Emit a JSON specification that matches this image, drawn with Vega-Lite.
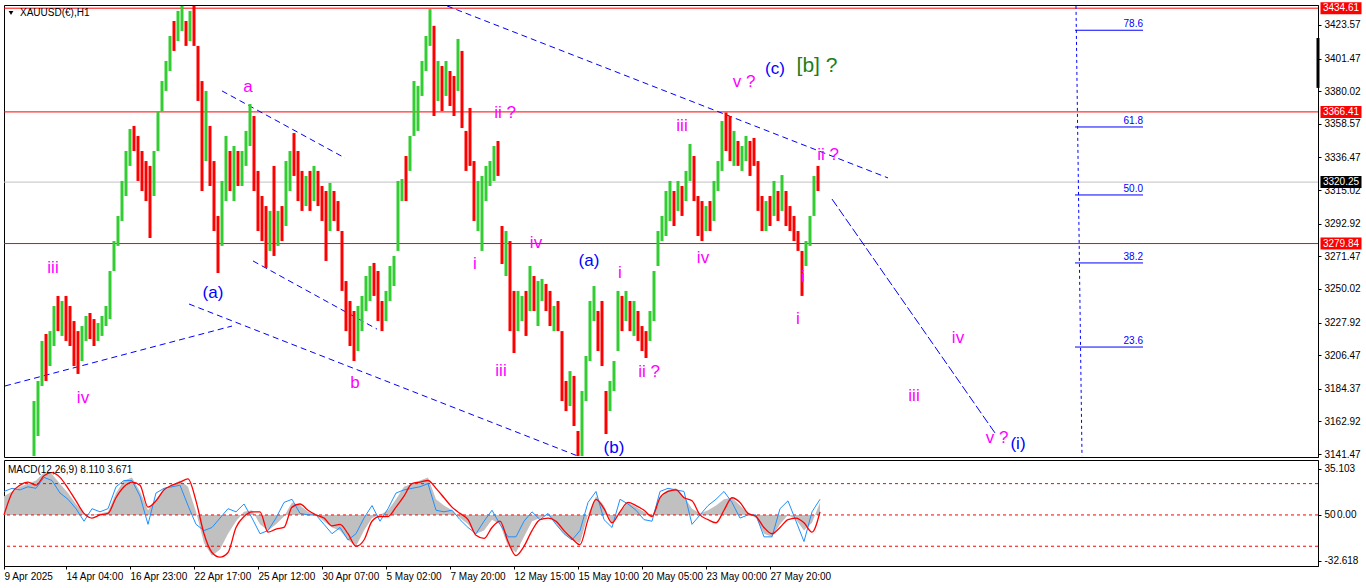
{
"$schema":"https://vega.github.io/schema/vega-lite/v6.json",
"padding":{"left":0,"top":1,"right":0,"bottom":0},
"background":"white",
"bounds":"flush",
"spacing":3,
"config":{"view":{"stroke":"#000000","strokeWidth":1},"font":"Liberation Sans","axis":{"labelOverlap":false,"labelFlush":false}},
"datasets":{
"hl":[{"p":3434.61,"c":"#ff0000"},{"p":3366.41,"c":"#ff0000"},{"p":3279.84,"c":"#ff0000"},{"p":3320.25,"c":"#c0c0c0"}],
"tl":[{"t1":1,"p1":3186.2,"t2":228,"p2":3225.6,"k":"a"},{"t1":185,"p1":3240.1,"t2":574,"p2":3140.1,"k":"a"},{"t1":218,"p1":3380.2,"t2":341,"p2":3336.1,"k":"a"},{"t1":249,"p1":3268.4,"t2":373,"p2":3223.6,"k":"a"},{"t1":443,"p1":3436.1,"t2":884,"p2":3323.0,"k":"a"},{"t1":828,"p1":3309.1,"t2":991,"p2":3155.3,"k":"b"},{"t1":1072,"p1":3436.1,"t2":1078,"p2":3140.1,"k":"c"}],
"fb":[{"t1":1071,"t2":1139,"p":3420.1,"s":"78.6"},{"t1":1071,"t2":1139,"p":3356.5,"s":"61.8"},{"t1":1071,"t2":1139,"p":3311.8,"s":"50.0"},{"t1":1071,"t2":1139,"p":3267.1,"s":"38.2"},{"t1":1071,"t2":1139,"p":3211.8,"s":"23.6"}],
"tg":[{"t":1337,"p":3434.61,"s":"3434.61","c":"#ff0000"},{"t":1337,"p":3366.41,"s":"3366.41","c":"#ff0000"},{"t":1337,"p":3320.25,"s":"3320.25","c":"#000000"},{"t":1337,"p":3279.84,"s":"3279.84","c":"#ff0000"}],
"lab":[
{"t":49,"p":3263.8,"s":"iii","c":"#ff00ff","fs":17},
{"t":79,"p":3178.3,"s":"iv","c":"#ff00ff","fs":17},
{"t":209,"p":3247.3,"s":"(a)","c":"#0000ff","fs":17},
{"t":244,"p":3382.8,"s":"a","c":"#ff00ff","fs":17},
{"t":351,"p":3188.2,"s":"b","c":"#ff00ff","fs":17},
{"t":501,"p":3365.7,"s":"ii ?","c":"#ff00ff","fs":17},
{"t":471,"p":3266.4,"s":"i","c":"#ff00ff","fs":17},
{"t":532,"p":3280.2,"s":"iv","c":"#ff00ff","fs":17},
{"t":497,"p":3196.0,"s":"iii","c":"#ff00ff","fs":17},
{"t":585,"p":3268.4,"s":"(a)","c":"#0000ff","fs":17},
{"t":616,"p":3260.5,"s":"i","c":"#ff00ff","fs":17},
{"t":645,"p":3195.4,"s":"ii ?","c":"#ff00ff","fs":17},
{"t":610,"p":3145.4,"s":"(b)","c":"#0000ff","fs":17},
{"t":678,"p":3357.2,"s":"iii","c":"#ff00ff","fs":17},
{"t":699,"p":3270.4,"s":"iv","c":"#ff00ff","fs":17},
{"t":740,"p":3386.1,"s":"v ?","c":"#ff00ff","fs":17},
{"t":771,"p":3394.6,"s":"(c)","c":"#0000ff","fs":17},
{"t":813,"p":3396.6,"s":"[b] ?","c":"#1a801a","fs":21},
{"t":824,"p":3338.1,"s":"ii ?","c":"#ff00ff","fs":17},
{"t":799,"p":3257.9,"s":"i","c":"#ff00ff","fs":17},
{"t":794,"p":3230.2,"s":"i","c":"#ff00ff","fs":17},
{"t":954,"p":3217.7,"s":"iv","c":"#ff00ff","fs":17},
{"t":910,"p":3179.6,"s":"iii","c":"#ff00ff","fs":17},
{"t":993,"p":3152.0,"s":"v ?","c":"#ff00ff","fs":17},
{"t":1014,"p":3148.0,"s":"(i)","c":"#0000ff","fs":17}
],
"cd":[
{"t":30,"h":3176.3,"l":3140.1,"d":"u"},
{"t":34,"h":3189.5,"l":3153.3,"d":"u"},
{"t":38,"h":3215.8,"l":3186.2,"d":"u"},
{"t":42,"h":3220.4,"l":3189.5,"d":"d"},
{"t":46,"h":3222.3,"l":3199.3,"d":"u"},
{"t":50,"h":3238.8,"l":3212.5,"d":"u"},
{"t":54,"h":3245.4,"l":3222.3,"d":"d"},
{"t":58,"h":3242.1,"l":3219.1,"d":"u"},
{"t":62,"h":3245.4,"l":3215.8,"d":"d"},
{"t":66,"h":3238.8,"l":3212.5,"d":"d"},
{"t":70,"h":3228.9,"l":3199.3,"d":"d"},
{"t":74,"h":3222.3,"l":3194.1,"d":"d"},
{"t":78,"h":3225.6,"l":3202.6,"d":"u"},
{"t":82,"h":3232.2,"l":3215.8,"d":"u"},
{"t":86,"h":3234.2,"l":3217.1,"d":"d"},
{"t":90,"h":3230.2,"l":3212.5,"d":"d"},
{"t":94,"h":3227.6,"l":3215.8,"d":"u"},
{"t":98,"h":3232.2,"l":3219.1,"d":"u"},
{"t":102,"h":3238.8,"l":3225.6,"d":"u"},
{"t":106,"h":3261.8,"l":3230.2,"d":"u"},
{"t":110,"h":3281.5,"l":3261.8,"d":"u"},
{"t":114,"h":3298.0,"l":3278.3,"d":"u"},
{"t":118,"h":3321.0,"l":3294.7,"d":"u"},
{"t":122,"h":3340.7,"l":3311.1,"d":"u"},
{"t":126,"h":3355.2,"l":3330.9,"d":"u"},
{"t":130,"h":3357.2,"l":3340.7,"d":"d"},
{"t":134,"h":3350.6,"l":3321.0,"d":"d"},
{"t":138,"h":3340.7,"l":3314.4,"d":"d"},
{"t":142,"h":3334.1,"l":3307.8,"d":"d"},
{"t":146,"h":3330.9,"l":3283.5,"d":"d"},
{"t":150,"h":3340.7,"l":3311.1,"d":"u"},
{"t":154,"h":3367.0,"l":3340.7,"d":"u"},
{"t":158,"h":3386.7,"l":3367.0,"d":"u"},
{"t":162,"h":3399.9,"l":3380.2,"d":"u"},
{"t":166,"h":3416.3,"l":3393.3,"d":"u"},
{"t":170,"h":3426.2,"l":3406.5,"d":"d"},
{"t":174,"h":3432.8,"l":3413.0,"d":"u"},
{"t":178,"h":3436.1,"l":3419.6,"d":"u"},
{"t":182,"h":3426.2,"l":3409.8,"d":"d"},
{"t":186,"h":3432.8,"l":3413.0,"d":"u"},
{"t":190,"h":3436.1,"l":3409.8,"d":"d"},
{"t":194,"h":3409.8,"l":3373.6,"d":"d"},
{"t":198,"h":3386.7,"l":3314.4,"d":"d"},
{"t":202,"h":3380.2,"l":3334.1,"d":"u"},
{"t":206,"h":3357.2,"l":3317.7,"d":"d"},
{"t":210,"h":3334.1,"l":3288.1,"d":"d"},
{"t":214,"h":3298.0,"l":3260.5,"d":"d"},
{"t":218,"h":3321.0,"l":3278.3,"d":"u"},
{"t":222,"h":3350.6,"l":3307.8,"d":"u"},
{"t":226,"h":3340.7,"l":3314.4,"d":"d"},
{"t":230,"h":3344.0,"l":3307.8,"d":"u"},
{"t":234,"h":3340.7,"l":3317.7,"d":"d"},
{"t":238,"h":3340.7,"l":3317.7,"d":"u"},
{"t":242,"h":3353.9,"l":3330.9,"d":"u"},
{"t":246,"h":3371.6,"l":3344.0,"d":"u"},
{"t":250,"h":3363.7,"l":3314.4,"d":"d"},
{"t":254,"h":3327.6,"l":3288.1,"d":"d"},
{"t":258,"h":3311.1,"l":3281.5,"d":"d"},
{"t":262,"h":3304.5,"l":3263.8,"d":"d"},
{"t":266,"h":3301.3,"l":3275.0,"d":"u"},
{"t":270,"h":3330.9,"l":3271.7,"d":"d"},
{"t":274,"h":3301.3,"l":3278.3,"d":"u"},
{"t":278,"h":3304.5,"l":3281.5,"d":"d"},
{"t":282,"h":3334.1,"l":3291.4,"d":"u"},
{"t":286,"h":3340.7,"l":3314.4,"d":"u"},
{"t":290,"h":3352.5,"l":3324.3,"d":"d"},
{"t":294,"h":3340.7,"l":3307.8,"d":"d"},
{"t":298,"h":3327.6,"l":3301.3,"d":"d"},
{"t":302,"h":3324.3,"l":3304.5,"d":"u"},
{"t":306,"h":3327.6,"l":3301.3,"d":"d"},
{"t":310,"h":3330.9,"l":3307.8,"d":"u"},
{"t":314,"h":3327.6,"l":3304.5,"d":"d"},
{"t":318,"h":3317.7,"l":3294.7,"d":"d"},
{"t":322,"h":3314.4,"l":3268.4,"d":"d"},
{"t":326,"h":3319.7,"l":3288.1,"d":"u"},
{"t":330,"h":3314.4,"l":3294.7,"d":"d"},
{"t":334,"h":3307.8,"l":3288.1,"d":"d"},
{"t":338,"h":3288.1,"l":3248.7,"d":"d"},
{"t":342,"h":3255.2,"l":3222.3,"d":"d"},
{"t":346,"h":3242.1,"l":3212.5,"d":"d"},
{"t":350,"h":3235.5,"l":3202.6,"d":"d"},
{"t":354,"h":3238.8,"l":3209.2,"d":"u"},
{"t":358,"h":3245.4,"l":3222.3,"d":"u"},
{"t":362,"h":3258.5,"l":3235.5,"d":"u"},
{"t":366,"h":3265.1,"l":3242.1,"d":"u"},
{"t":370,"h":3267.1,"l":3245.4,"d":"d"},
{"t":374,"h":3261.8,"l":3228.9,"d":"d"},
{"t":378,"h":3242.1,"l":3222.3,"d":"d"},
{"t":382,"h":3248.7,"l":3228.9,"d":"u"},
{"t":386,"h":3265.1,"l":3242.1,"d":"u"},
{"t":390,"h":3271.7,"l":3251.9,"d":"u"},
{"t":394,"h":3321.0,"l":3275.0,"d":"u"},
{"t":398,"h":3322.3,"l":3307.8,"d":"u"},
{"t":402,"h":3337.4,"l":3307.8,"d":"d"},
{"t":406,"h":3350.6,"l":3327.6,"d":"u"},
{"t":410,"h":3386.7,"l":3350.6,"d":"u"},
{"t":414,"h":3383.5,"l":3353.9,"d":"u"},
{"t":418,"h":3399.9,"l":3376.9,"d":"u"},
{"t":422,"h":3416.3,"l":3393.3,"d":"u"},
{"t":426,"h":3434.0,"l":3409.8,"d":"u"},
{"t":430,"h":3423.0,"l":3363.7,"d":"d"},
{"t":434,"h":3399.9,"l":3373.6,"d":"u"},
{"t":438,"h":3396.6,"l":3367.0,"d":"d"},
{"t":442,"h":3399.9,"l":3376.9,"d":"u"},
{"t":446,"h":3393.3,"l":3370.3,"d":"d"},
{"t":450,"h":3390.0,"l":3363.7,"d":"d"},
{"t":454,"h":3414.4,"l":3380.2,"d":"u"},
{"t":458,"h":3406.5,"l":3355.8,"d":"d"},
{"t":462,"h":3353.9,"l":3327.6,"d":"d"},
{"t":466,"h":3369.0,"l":3330.9,"d":"d"},
{"t":470,"h":3334.1,"l":3294.7,"d":"d"},
{"t":474,"h":3321.0,"l":3288.1,"d":"u"},
{"t":478,"h":3324.3,"l":3275.0,"d":"u"},
{"t":482,"h":3330.9,"l":3307.8,"d":"u"},
{"t":486,"h":3334.1,"l":3317.7,"d":"u"},
{"t":490,"h":3344.0,"l":3321.0,"d":"u"},
{"t":494,"h":3347.3,"l":3324.3,"d":"d"},
{"t":498,"h":3291.4,"l":3266.4,"d":"d"},
{"t":502,"h":3288.1,"l":3258.5,"d":"u"},
{"t":506,"h":3281.5,"l":3222.3,"d":"d"},
{"t":510,"h":3248.7,"l":3207.9,"d":"d"},
{"t":514,"h":3248.7,"l":3222.3,"d":"u"},
{"t":518,"h":3245.4,"l":3228.9,"d":"u"},
{"t":522,"h":3248.7,"l":3219.1,"d":"d"},
{"t":526,"h":3265.1,"l":3235.5,"d":"u"},
{"t":530,"h":3258.5,"l":3235.5,"d":"d"},
{"t":534,"h":3255.2,"l":3225.6,"d":"u"},
{"t":538,"h":3256.6,"l":3242.1,"d":"u"},
{"t":542,"h":3253.3,"l":3235.5,"d":"d"},
{"t":546,"h":3248.7,"l":3225.6,"d":"d"},
{"t":550,"h":3238.8,"l":3222.3,"d":"u"},
{"t":554,"h":3242.1,"l":3222.3,"d":"d"},
{"t":558,"h":3222.3,"l":3176.3,"d":"d"},
{"t":562,"h":3189.5,"l":3169.7,"d":"d"},
{"t":566,"h":3196.0,"l":3173.0,"d":"u"},
{"t":570,"h":3192.8,"l":3159.9,"d":"d"},
{"t":574,"h":3156.6,"l":3140.1,"d":"d"},
{"t":578,"h":3182.9,"l":3140.1,"d":"u"},
{"t":582,"h":3205.9,"l":3176.3,"d":"u"},
{"t":586,"h":3242.1,"l":3202.6,"d":"u"},
{"t":590,"h":3251.9,"l":3228.9,"d":"u"},
{"t":594,"h":3235.5,"l":3209.2,"d":"d"},
{"t":598,"h":3242.1,"l":3199.3,"d":"d"},
{"t":602,"h":3182.9,"l":3154.6,"d":"d"},
{"t":606,"h":3189.5,"l":3169.7,"d":"u"},
{"t":610,"h":3202.6,"l":3182.9,"d":"u"},
{"t":614,"h":3248.7,"l":3209.2,"d":"u"},
{"t":618,"h":3245.4,"l":3222.3,"d":"d"},
{"t":622,"h":3248.7,"l":3228.9,"d":"u"},
{"t":626,"h":3242.1,"l":3222.3,"d":"d"},
{"t":630,"h":3242.1,"l":3219.1,"d":"u"},
{"t":634,"h":3235.5,"l":3215.8,"d":"d"},
{"t":638,"h":3225.6,"l":3209.2,"d":"d"},
{"t":642,"h":3222.3,"l":3204.6,"d":"d"},
{"t":646,"h":3235.5,"l":3215.8,"d":"u"},
{"t":650,"h":3261.8,"l":3228.9,"d":"u"},
{"t":654,"h":3288.1,"l":3265.1,"d":"u"},
{"t":658,"h":3298.0,"l":3281.5,"d":"u"},
{"t":662,"h":3314.4,"l":3284.8,"d":"u"},
{"t":666,"h":3321.0,"l":3294.7,"d":"u"},
{"t":670,"h":3314.4,"l":3291.4,"d":"d"},
{"t":674,"h":3321.0,"l":3301.3,"d":"u"},
{"t":678,"h":3317.7,"l":3298.0,"d":"d"},
{"t":682,"h":3327.6,"l":3307.8,"d":"u"},
{"t":686,"h":3345.3,"l":3321.0,"d":"u"},
{"t":690,"h":3337.4,"l":3307.8,"d":"d"},
{"t":694,"h":3311.1,"l":3284.8,"d":"d"},
{"t":698,"h":3307.8,"l":3281.5,"d":"d"},
{"t":702,"h":3304.5,"l":3288.1,"d":"u"},
{"t":706,"h":3307.8,"l":3288.1,"d":"d"},
{"t":710,"h":3321.0,"l":3294.7,"d":"u"},
{"t":714,"h":3334.1,"l":3314.4,"d":"u"},
{"t":718,"h":3360.4,"l":3327.6,"d":"u"},
{"t":722,"h":3366.0,"l":3340.7,"d":"d"},
{"t":726,"h":3363.7,"l":3334.1,"d":"d"},
{"t":730,"h":3353.9,"l":3330.9,"d":"u"},
{"t":734,"h":3347.3,"l":3330.9,"d":"d"},
{"t":738,"h":3344.0,"l":3327.6,"d":"u"},
{"t":742,"h":3350.6,"l":3334.1,"d":"u"},
{"t":746,"h":3347.3,"l":3324.3,"d":"d"},
{"t":750,"h":3349.3,"l":3330.9,"d":"d"},
{"t":754,"h":3334.1,"l":3301.3,"d":"d"},
{"t":758,"h":3311.1,"l":3288.1,"d":"d"},
{"t":762,"h":3307.8,"l":3288.1,"d":"u"},
{"t":766,"h":3311.1,"l":3291.4,"d":"d"},
{"t":770,"h":3321.0,"l":3298.0,"d":"u"},
{"t":774,"h":3314.4,"l":3294.7,"d":"d"},
{"t":778,"h":3324.9,"l":3301.3,"d":"u"},
{"t":782,"h":3314.4,"l":3291.4,"d":"d"},
{"t":786,"h":3304.5,"l":3288.1,"d":"d"},
{"t":790,"h":3298.0,"l":3281.5,"d":"d"},
{"t":794,"h":3288.1,"l":3275.0,"d":"d"},
{"t":798,"h":3275.0,"l":3245.4,"d":"d"},
{"t":802,"h":3281.5,"l":3265.1,"d":"u"},
{"t":806,"h":3298.0,"l":3278.3,"d":"u"},
{"t":810,"h":3324.3,"l":3298.0,"d":"u"},
{"t":814,"h":3330.9,"l":3314.4,"d":"d"}
],
"lv":[{"v":20},{"v":0},{"v":-20}],
"md":[
{"t":0,"s":0,"b":15,"g":12},{"t":8,"s":14,"b":17,"g":15},{"t":16,"s":19,"b":16,"g":18},{"t":24,"s":21,"b":18,"g":20},{"t":32,"s":19,"b":17,"g":22},{"t":40,"s":25,"b":24,"g":27},{"t":48,"s":27,"b":22,"g":26},{"t":56,"s":24,"b":14,"g":20},{"t":64,"s":17,"b":10,"g":14},{"t":72,"s":9,"b":4,"g":7},
{"t":80,"s":1,"b":-4,"g":1},{"t":88,"s":-2,"b":4,"g":0},{"t":96,"s":0,"b":2,"g":1},{"t":104,"s":1,"b":4,"g":2},{"t":112,"s":11,"b":18,"g":14},{"t":120,"s":18,"b":22,"g":22},{"t":128,"s":21,"b":22,"g":24},{"t":136,"s":19,"b":12,"g":15},{"t":144,"s":5,"b":-6,"g":3},{"t":152,"s":9,"b":14,"g":10},
{"t":160,"s":16,"b":17,"g":17},{"t":168,"s":19,"b":18,"g":19},{"t":176,"s":21,"b":19,"g":22},{"t":184,"s":23,"b":6,"g":18},{"t":192,"s":9,"b":-6,"g":2},{"t":200,"s":-12,"b":-10,"g":-18},{"t":208,"s":-24,"b":-8,"g":-26},{"t":216,"s":-27,"b":-2,"g":-22},{"t":224,"s":-24,"b":4,"g":-12},{"t":232,"s":-8,"b":2,"g":-4},
{"t":240,"s":-1,"b":7,"g":2},{"t":248,"s":2,"b":-2,"g":3},{"t":256,"s":2,"b":-12,"g":-6},{"t":264,"s":-11,"b":-10,"g":-10},{"t":272,"s":-9,"b":-2,"g":-6},{"t":280,"s":-8,"b":8,"g":-1},{"t":288,"s":5,"b":10,"g":8},{"t":296,"s":7,"b":1,"g":6},{"t":304,"s":3,"b":0,"g":2},{"t":312,"s":0,"b":0,"g":0},
{"t":320,"s":-2,"b":-6,"g":-4},{"t":328,"s":-7,"b":-12,"g":-8},{"t":336,"s":-6,"b":-8,"g":-10},{"t":344,"s":-12,"b":-16,"g":-16},{"t":352,"s":-20,"b":-12,"g":-20},{"t":360,"s":-16,"b":-2,"g":-10},{"t":368,"s":-4,"b":6,"g":-2},{"t":376,"s":-1,"b":-4,"g":0},{"t":384,"s":-1,"b":4,"g":3},{"t":392,"s":5,"b":14,"g":10},
{"t":400,"s":12,"b":16,"g":18},{"t":408,"s":20,"b":17,"g":20},{"t":416,"s":21,"b":18,"g":22},{"t":424,"s":22,"b":20,"g":24},{"t":432,"s":17,"b":3,"g":10},{"t":440,"s":11,"b":2,"g":6},{"t":448,"s":5,"b":3,"g":3},{"t":456,"s":1,"b":-3,"g":-2},{"t":464,"s":-3,"b":-8,"g":-6},{"t":472,"s":-13,"b":-12,"g":-12},
{"t":480,"s":-15,"b":-4,"g":-10},{"t":488,"s":-8,"b":3,"g":-3},{"t":496,"s":-4,"b":-6,"g":-6},{"t":504,"s":-17,"b":-14,"g":-20},{"t":512,"s":-26,"b":-14,"g":-24},{"t":520,"s":-20,"b":-4,"g":-14},{"t":528,"s":-10,"b":2,"g":-4},{"t":536,"s":-3,"b":-3,"g":-2},{"t":544,"s":-2,"b":1,"g":0},{"t":552,"s":-4,"b":-6,"g":-6},
{"t":560,"s":-10,"b":-12,"g":-12},{"t":568,"s":-15,"b":-16,"g":-16},{"t":576,"s":-19,"b":-10,"g":-18},{"t":584,"s":-3,"b":8,"g":0},{"t":592,"s":10,"b":15,"g":12},{"t":600,"s":4,"b":-3,"g":6},{"t":608,"s":-5,"b":-8,"g":-6},{"t":616,"s":2,"b":10,"g":2},{"t":624,"s":8,"b":7,"g":8},{"t":632,"s":6,"b":3,"g":5},
{"t":640,"s":3,"b":-3,"g":2},{"t":648,"s":-1,"b":-4,"g":-1},{"t":656,"s":11,"b":15,"g":12},{"t":664,"s":15,"b":17,"g":16},{"t":672,"s":16,"b":16,"g":17},{"t":680,"s":11,"b":15,"g":12},{"t":688,"s":9,"b":-6,"g":4},{"t":696,"s":0,"b":0,"g":1},{"t":704,"s":-3,"b":6,"g":3},{"t":712,"s":-5,"b":10,"g":6},
{"t":720,"s":3,"b":15,"g":10},{"t":728,"s":11,"b":8,"g":11},{"t":736,"s":8,"b":-2,"g":6},{"t":744,"s":1,"b":0,"g":1},{"t":752,"s":-1,"b":0,"g":-2},{"t":760,"s":-8,"b":-14,"g":-12},{"t":768,"s":-12,"b":-14,"g":-14},{"t":776,"s":-8,"b":4,"g":-6},{"t":784,"s":-3,"b":9,"g":0},{"t":792,"s":-2,"b":-4,"g":-3},
{"t":800,"s":-5,"b":-17,"g":-10},{"t":808,"s":-11,"b":2,"g":-5},{"t":816,"s":2,"b":10,"g":8}
]
},
"vconcat":[
{
"width":1314,"height":452,
"resolve":{"axis":{"y":"independent"}},
"layer":[
{"data":{"name":"hl"},"mark":{"type":"rule","strokeWidth":1},
 "encoding":{"y":{"field":"p","type":"quantitative","scale":{"domain":[3139.5,3436.7],"nice":false,"zero":false},
   "axis":{"orient":"right","values":[3423.57,3401.47,3380.02,3358.57,3336.47,3315.02,3292.92,3271.47,3250.02,3227.92,3206.47,3184.37,3162.92,3141.47],"format":".2f","grid":false,"domain":true,"domainColor":"#000000","tickColor":"#000000","tickSize":3,"labelPadding":3,"labelFont":"Liberation Sans","labelFontSize":10,"labelColor":"#000000","labelOverlap":false,"labelFlush":false,"labelBound":false,"title":null}},
 "color":{"field":"c","type":"nominal","scale":null}}},
{"data":{"name":"tl"},"mark":{"type":"rule","color":"#0000ff","strokeWidth":1},
 "encoding":{"x":{"field":"t1","type":"quantitative","scale":{"domain":[0,1314],"nice":false,"zero":false},"axis":null},"x2":{"field":"t2"},
 "y":{"field":"p1","type":"quantitative","axis":null},"y2":{"field":"p2"},
 "strokeDash":{"field":"k","type":"nominal","scale":{"domain":["a","b","c"],"range":[[6,4],[9,3],[3,3]]},"legend":null}}},
{"data":{"name":"fb"},"mark":{"type":"rule","color":"#0000ff","strokeWidth":1},
 "encoding":{"x":{"field":"t1","type":"quantitative","axis":null},"x2":{"field":"t2"},"y":{"field":"p","type":"quantitative","axis":null}}},
{"data":{"name":"fb"},"mark":{"type":"text","color":"#0000ff","align":"right","baseline":"bottom","dy":-1,"fontSize":10,"font":"Liberation Sans"},
 "encoding":{"x":{"field":"t2","type":"quantitative","axis":null},"y":{"field":"p","type":"quantitative","axis":null},"text":{"field":"s"}}},
{"data":{"name":"cd"},"mark":{"type":"rule","strokeWidth":3},
 "encoding":{"x":{"field":"t","type":"quantitative","axis":null},"y":{"field":"h","type":"quantitative","axis":null},"y2":{"field":"l"},
 "color":{"field":"d","type":"nominal","scale":{"domain":["u","d"],"range":["#32cd32","#ff0000"]},"legend":null}}},
{"data":{"name":"lab"},"mark":{"type":"text","align":"center","baseline":"middle","font":"Liberation Sans"},
 "encoding":{"x":{"field":"t","type":"quantitative","axis":null},"y":{"field":"p","type":"quantitative","axis":null},"text":{"field":"s"},
 "color":{"field":"c","type":"nominal","scale":null},"size":{"field":"fs","type":"quantitative","scale":null}}},
{"data":{"name":"tg"},"mark":{"type":"tick","orient":"horizontal","thickness":12,"size":41,"opacity":1,"clip":false},
 "encoding":{"x":{"field":"t","type":"quantitative","axis":null},"y":{"field":"p","type":"quantitative","axis":null},"color":{"field":"c","type":"nominal","scale":null}}},
{"data":{"name":"tg"},"mark":{"type":"text","align":"center","baseline":"middle","fontSize":10,"color":"#ffffff","font":"Liberation Sans","clip":false},
 "encoding":{"x":{"field":"t","type":"quantitative","axis":null},"y":{"field":"p","type":"quantitative","axis":null},"text":{"field":"s"}}},
{"data":{"values":[{"t":16,"p":3431.5,"s":"XAUUSD(€),H1"}]},"mark":{"type":"text","align":"left","baseline":"middle","fontSize":10,"color":"#000000","font":"Liberation Sans"},
 "encoding":{"x":{"field":"t","type":"quantitative","axis":null},"y":{"field":"p","type":"quantitative","axis":null},"text":{"field":"s"}}},
{"data":{"values":[{"t":7,"p":3431.5}]},"mark":{"type":"point","shape":"triangle-down","filled":true,"color":"#000000","size":22,"opacity":1},
 "encoding":{"x":{"field":"t","type":"quantitative","axis":null},"y":{"field":"p","type":"quantitative","axis":null}}},
{"data":{"values":[{"t":1314,"a":3415.0,"b":3382.2}]},"mark":{"type":"rule","color":"#000000","strokeWidth":3},
 "encoding":{"x":{"field":"t","type":"quantitative","axis":null},"y":{"field":"a","type":"quantitative","axis":null},"y2":{"field":"b"}}}
]
},
{
"width":1314,"height":106,
"layer":[
{"data":{"name":"md"},"mark":{"type":"area","color":"#c0c0c0","opacity":1},
 "encoding":{"x":{"field":"t","type":"quantitative","scale":{"domain":[0,1314],"nice":false,"zero":false},
   "axis":{"orient":"bottom","values":[0,62,126,190,254,318,382,446,510,574,638,702,766],"labelExpr":"['9 Apr 2025','14 Apr 04:00','16 Apr 23:00','22 Apr 17:00','25 Apr 12:00','30 Apr 07:00','5 May 02:00','7 May 20:00','12 May 15:00','15 May 10:00','20 May 05:00','23 May 00:00','27 May 20:00'][round((datum.value+2)/64)]","domain":false,"grid":false,"tickColor":"#000000","tickSize":3,"labelAlign":"left","labelPadding":2,"labelFont":"Liberation Sans","labelFontSize":10,"labelColor":"#000000","labelOverlap":false,"labelFlush":false,"title":null}},
 "y":{"field":"g","type":"quantitative","scale":{"domain":[-32.618,35.103],"nice":false,"zero":false},
   "axis":{"orient":"right","values":[29.4,20,0,-20,-29.4],"labelExpr":"datum.value>25?'35.103':datum.value>10?'80':datum.value>-10?'50':datum.value>-25?'20':'-32.618'","grid":false,"domain":true,"domainColor":"#000000","tickColor":"#000000","tickSize":3,"labelPadding":3,"labelFont":"Liberation Sans","labelFontSize":10,"labelColor":"#000000","labelOverlap":false,"labelFlush":false,"title":null}},
 "y2":{"datum":0}}},
{"data":{"name":"lv"},"mark":{"type":"rule","color":"#ff0000","strokeDash":[3,3],"strokeWidth":1},
 "encoding":{"y":{"field":"v","type":"quantitative"}}},
{"data":{"name":"md"},"mark":{"type":"line","color":"#1e90ff","strokeWidth":1},
 "encoding":{"x":{"field":"t","type":"quantitative"},"y":{"field":"b","type":"quantitative"}}},
{"data":{"name":"md"},"mark":{"type":"line","color":"#ff0000","strokeWidth":1.3,"interpolate":"monotone"},
 "encoding":{"x":{"field":"t","type":"quantitative"},"y":{"field":"s","type":"quantitative"}}},
{"data":{"values":[{"t":4,"v":28.4,"s":"MACD(12,26,9) 8.110 3.671"}]},"mark":{"type":"text","align":"left","baseline":"middle","fontSize":10,"color":"#000000","font":"Liberation Sans"},
 "encoding":{"x":{"field":"t","type":"quantitative"},"y":{"field":"v","type":"quantitative"},"text":{"field":"s"}}},
{"data":{"values":[{"t":1333,"v":0,"s":"0.00"}]},"mark":{"type":"text","align":"left","baseline":"middle","fontSize":10,"color":"#000000","font":"Liberation Sans","clip":false},
 "encoding":{"x":{"field":"t","type":"quantitative"},"y":{"field":"v","type":"quantitative"},"text":{"field":"s"}}}
]
}
]
}
